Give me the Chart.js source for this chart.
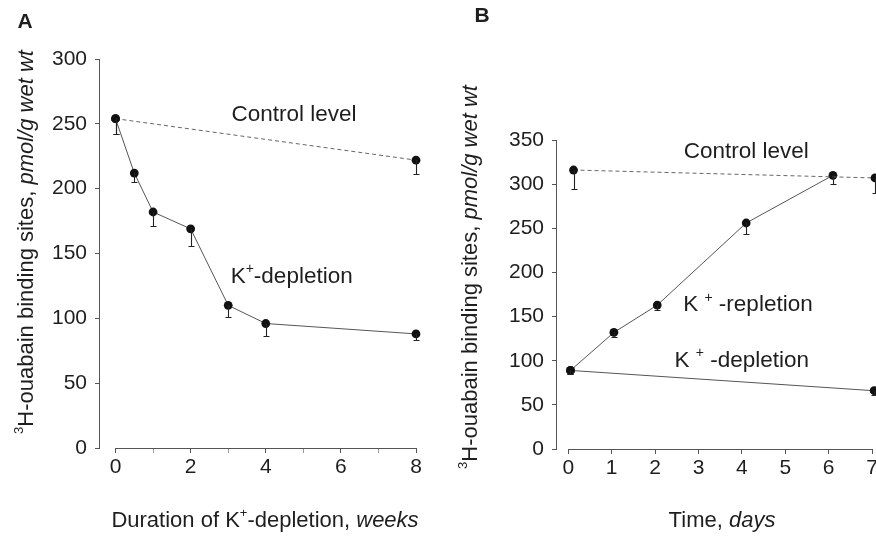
<!DOCTYPE html>
<html>
<head>
<meta charset="utf-8">
<script src="https://cdn.jsdelivr.net/npm/chart.js@4.4.1/dist/chart.umd.min.js"></script>
<style>
  html, body { margin: 0; padding: 0; background: #fff; overflow: hidden; width: 876px; height: 549px; }
  #wrapA { position: absolute; left: 0; top: 0; width: 440px; height: 549px; }
  #wrapB { position: absolute; left: 440px; top: 0; width: 460px; height: 549px; }
</style>
</head>
<body>
<div id="wrapA"><canvas id="chartA" width="440" height="549"></canvas></div>
<div id="wrapB"><canvas id="chartB" width="460" height="549"></canvas></div>
<script>
// ---- panel A : duration of K+ depletion (weeks)
var weeksDepl = [0, 0.5, 1, 2, 3, 4, 8];
var depletionA = [254, 212, 182, 169, 110, 96, 88];
var depletionLowA = [242, 205, 171, 156, 101, 86, 83];   // lower end of error bar
var weeksCtrl = [0, 8];
var controlA = [254, 222];
var controlLowA = [242, 211];
var weekTicks = [0, 1, 2, 3, 4, 5, 6, 7, 8];
var weekLabels = [0, 2, 4, 6, 8];
var yTicksA = [0, 50, 100, 150, 200, 250, 300];

// ---- panel B : time (days)
var daysRepl = [0.05, 1.05, 2.05, 4.1, 6.1];
var repletionB = [89, 132, 163, 256, 310];
var repletionLowB = [85, 127, 158, 244, 300];
var daysDepl = [0.05, 7.05];
var depletionB = [89, 66];
var depletionLowB = [85, 61];
var daysCtrl = [0.12, 7.07];
var controlB = [316, 307];
var controlLowB = [295, 290];
var dayTicks = [0, 1, 2, 3, 4, 5, 6, 7];
var yTicksB = [0, 50, 100, 150, 200, 250, 300, 350];

var INK = '#1e1e1e';
var LINE = '#555';
var FONT = "'Liberation Sans', Arial, Helvetica, sans-serif";

function pairs(xs, ys) { return xs.map(function (x, i) { return { x: x, y: ys[i] }; }); }

function series(label, xs, ys, lows, dashed) {
    return {
        label: label, data: pairs(xs, ys), errLow: lows,
        borderColor: dashed ? '#666' : LINE, borderWidth: 1, borderDash: dashed ? [4, 3] : [],
        pointRadius: 4.4, pointBackgroundColor: '#111', pointBorderColor: '#111', pointBorderWidth: 0,
        tension: 0, fill: false, clip: false
    };
}

// lower error bars with a small cap
var errorBars = {
    id: 'errorBars',
    afterDatasetsDraw: function (chart) {
        var ctx = chart.ctx, xs = chart.scales.x, ys = chart.scales.y;
        ctx.save();
        ctx.strokeStyle = '#222';
        ctx.lineWidth = 1.1;
        chart.data.datasets.forEach(function (ds) {
            if (!ds.errLow) return;
            ds.data.forEach(function (p, i) {
                var px = Math.round(xs.getPixelForValue(p.x)) + 0.5;
                var py = ys.getPixelForValue(p.y);
                var pl = Math.round(ys.getPixelForValue(ds.errLow[i])) + 0.5;
                ctx.beginPath();
                ctx.moveTo(px, py); ctx.lineTo(px, pl);
                ctx.moveTo(px - 3, pl); ctx.lineTo(px + 3, pl);
                ctx.stroke();
            });
        });
        ctx.restore();
    }
};

// x axis line only spans the tick range (detached from the y axis)
var xAxisLine = {
    id: 'xAxisLine',
    afterDraw: function (chart) {
        var xs = chart.scales.x, ctx = chart.ctx;
        var t = xs.ticks;
        var y0 = Math.round(chart.chartArea.bottom) + 0.5;
        ctx.save();
        ctx.strokeStyle = LINE; ctx.lineWidth = 1;
        ctx.beginPath();
        ctx.moveTo(xs.getPixelForValue(t[0].value), y0);
        ctx.lineTo(xs.getPixelForValue(t[t.length - 1].value), y0);
        ctx.stroke();
        ctx.restore();
    }
};

function drawRuns(ctx, runs, x, y, size) {
    var fonts = runs.map(function (r) {
        return (r.italic ? 'italic ' : '') + (r.sup ? Math.round(size * 0.6) : size) + 'px ' + FONT;
    });
    var w = 0;
    runs.forEach(function (r, i) { ctx.font = fonts[i]; w += ctx.measureText(r.t).width; });
    var cx = x - w / 2;
    runs.forEach(function (r, i) {
        ctx.font = fonts[i];
        ctx.fillText(r.t, cx, y + (r.sup ? -size * 0.33 : 0));
        cx += ctx.measureText(r.t).width;
    });
}

// panel letter, rich axis titles and in-plot labels
var figureText = {
    id: 'figureText',
    afterDraw: function (chart, args, o) {
        var ctx = chart.ctx, xs = chart.scales.x, ys = chart.scales.y;
        ctx.save();
        ctx.fillStyle = INK;
        ctx.textBaseline = 'middle';
        ctx.textAlign = 'center';
        ctx.font = 'bold 21px ' + FONT;
        ctx.fillText(o.letter.t, o.letter.x, o.letter.y);
        ctx.textAlign = 'left';
        drawRuns(ctx, o.xTitle.runs, o.xTitle.x, o.xTitle.y, 22);
        ctx.save();
        ctx.translate(o.yTitle.x, o.yTitle.y);
        ctx.rotate(-Math.PI / 2);
        drawRuns(ctx, o.yTitle.runs, 0, 0, 22);
        ctx.restore();
        o.notes.forEach(function (n) {
            drawRuns(ctx, n.runs, xs.getPixelForValue(n.x), ys.getPixelForValue(n.y), 22.5);
        });
        ctx.restore();
    }
};

var yTitleRuns = [{ t: '3', sup: true }, { t: 'H-ouabain binding sites, ' }, { t: 'pmol/g wet wt', italic: true }];

function baseOptions(cfg) {
    return {
        responsive: false, animation: false, devicePixelRatio: 1,
        layout: { padding: cfg.padding },
        plugins: { legend: { display: false }, tooltip: { enabled: false }, figureText: cfg.text },
        scales: {
            x: {
                type: 'linear', min: cfg.xMin, max: cfg.xMax,
                afterBuildTicks: function (s) { s.ticks = cfg.xTicks.map(function (v) { return { value: v }; }); },
                afterFit: function (s) { s.height = cfg.xHeight; },
                border: { display: false },
                grid: {
                    drawOnChartArea: false, drawTicks: true, tickLength: 5,
                    color: function (c) { return cfg.xLabels.indexOf(c.tick && c.tick.value) >= 0 ? LINE : '#999'; }
                },
                ticks: {
                    autoSkip: false, maxRotation: 0, padding: 2, color: INK,
                    font: { family: FONT, size: 21 },
                    callback: function (v) { return cfg.xLabels.indexOf(v) >= 0 ? String(v) : ''; }
                }
            },
            y: {
                min: 0, max: cfg.yMax,
                afterBuildTicks: function (s) { s.ticks = cfg.yTicks.map(function (v) { return { value: v }; }); },
                afterFit: function (s) { s.width = cfg.yWidth; },
                border: { display: true, color: LINE, width: 1 },
                grid: { drawOnChartArea: false, drawTicks: true, tickLength: 4, color: LINE },
                ticks: { padding: 8, color: INK, font: { family: FONT, size: 21 } }
            }
        }
    };
}

Chart.register(errorBars, xAxisLine, figureText);

new Chart(document.getElementById('chartA'), {
    type: 'line',
    data: {
        datasets: [
            series('Control level', weeksCtrl, controlA, controlLowA, true),
            series('K+-depletion', weeksDepl, depletionA, depletionLowA, false)
        ]
    },
    options: baseOptions({
        padding: { top: 59, right: 24, left: 0, bottom: 0 },
        xMin: -0.44, xMax: 8, xTicks: weekTicks, xLabels: weekLabels, xHeight: 101,
        yMax: 300, yTicks: yTicksA, yWidth: 99,
        text: {
            letter: { t: 'A', x: 25, y: 22 },
            yTitle: { runs: yTitleRuns, x: 27, y: 242 },
            xTitle: { runs: [{ t: 'Duration of K' }, { t: '+', sup: true }, { t: '-depletion, ' }, { t: 'weeks', italic: true }], x: 265, y: 521 },
            notes: [
                { runs: [{ t: 'Control level' }], x: 4.75, y: 257 },
                { runs: [{ t: 'K' }, { t: '+', sup: true }, { t: '-depletion' }], x: 4.69, y: 132 }
            ]
        }
    })
});

new Chart(document.getElementById('chartB'), {
    type: 'line',
    data: {
        datasets: [
            series('Control level', daysCtrl, controlB, controlLowB, true),
            series('K+-repletion', daysRepl, repletionB, repletionLowB, false),
            series('K+-depletion', daysDepl, depletionB, depletionLowB, false)
        ]
    },
    options: baseOptions({
        padding: { top: 140, right: 28, left: 0, bottom: 0 },
        xMin: -0.284, xMax: 7, xTicks: dayTicks, xLabels: dayTicks, xHeight: 100,
        yMax: 350, yTicks: yTicksB, yWidth: 116,
        text: {
            letter: { t: 'B', x: 42, y: 16 },
            yTitle: { runs: yTitleRuns, x: 31, y: 277 },
            xTitle: { runs: [{ t: 'Time, ' }, { t: 'days', italic: true }], x: 282, y: 521 },
            notes: [
                { runs: [{ t: 'Control level' }], x: 4.1, y: 337 },
                { runs: [{ t: 'K ' }, { t: '+', sup: true }, { t: ' -repletion' }], x: 4.14, y: 163 },
                { runs: [{ t: 'K ' }, { t: '+', sup: true }, { t: ' -depletion' }], x: 4.0, y: 100 }
            ]
        }
    })
});
</script>
</body>
</html>
